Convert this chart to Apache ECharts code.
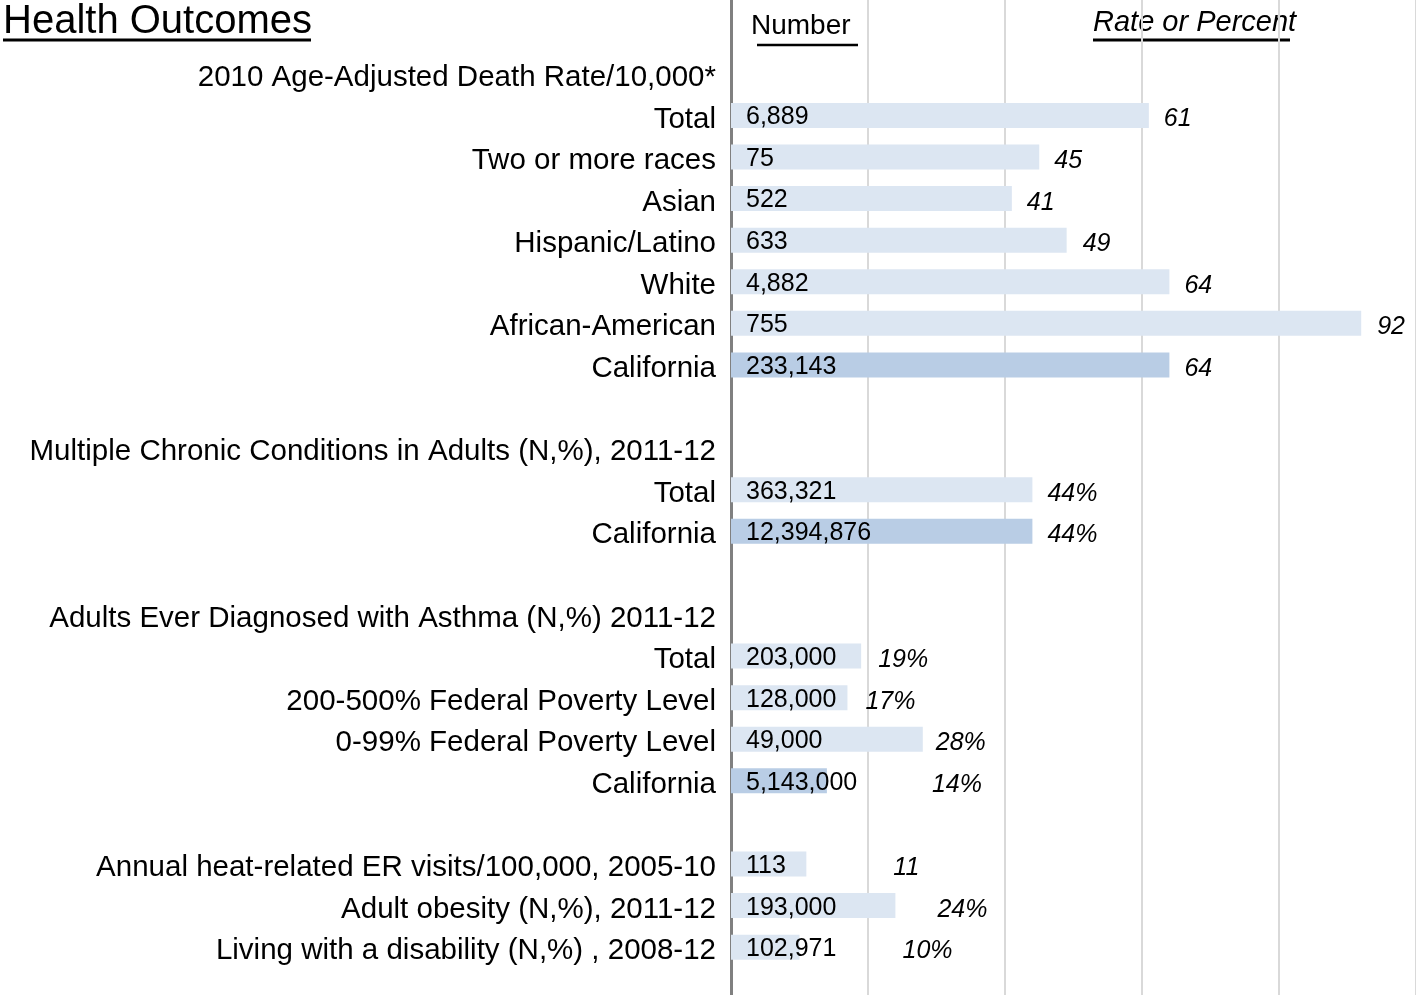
<!DOCTYPE html>
<html>
<head>
<meta charset="utf-8">
<title>Health Outcomes</title>
<script src="https://cdn.jsdelivr.net/npm/echarts@6/dist/echarts.min.js"></script>
<style>
  html, body { margin: 0; padding: 0; background: #fff; }
  #main { width: 1416px; height: 995px; }
</style>
</head>
<body>
<div id="main"></div>
<script>
// 数据
const categories = [
  '2010 Age-Adjusted Death Rate/10,000*',
  'Total', 'Two or more races', 'Asian', 'Hispanic/Latino', 'White', 'African-American', 'California',
  '',
  'Multiple Chronic Conditions in Adults (N,%), 2011-12',
  'Total', 'California',
  '',
  'Adults Ever Diagnosed with Asthma (N,%) 2011-12',
  'Total', '200-500% Federal Poverty Level', '0-99% Federal Poverty Level', 'California',
  '',
  'Annual heat-related ER visits/100,000, 2005-10',
  'Adult obesity (N,%), 2011-12',
  'Living with a disability (N,%) , 2008-12'
]
const rates = [null, 61, 45, 41, 49, 64, 92, 64, null, null, 44, 44, null, null, 19, 17, 28, 14, null, 11, 24, 10]
const counts = [null, 6889, 75, 522, 633, 4882, 755, 233143, null, null, 363321, 12394876, null, null, 203000, 128000, 49000, 5143000, null, 113, 193000, 102971]
const units = ['', '', '', '', '', '', '', '', '', '', '%', '%', '', '', '%', '%', '%', '%', '', '', '%', '%']

// 样式
const font = 'Liberation Sans, Arial, sans-serif'
const barColor = '#dce6f2'
const stateColor = '#b9cde5'
const rateLabelGap = [15, 15, 15, 15, 16, 15, 16, 15, 15, 15, 15, 15, 15, 15, 17, 18, 13, 105, 15, 87, 42, 103]

const chart = echarts.init(document.getElementById('main'))

const countData = rates.map((v, i) => ({
  value: v == null ? '-' : v,
  itemStyle: { color: categories[i] === 'California' ? stateColor : barColor }
}))
const rateData = rates.map((v, i) => ({
  value: v == null ? '-' : v,
  label: { distance: rateLabelGap[i] }
}))

chart.setOption({
  animation: false,
  grid: [
    { left: 731, right: 0, top: 0, bottom: 0 },
    { left: 731, right: 0, top: 53, height: 915 }
  ],
  xAxis: [
    {
      gridIndex: 0, type: 'value', min: 0, max: 100, interval: 20,
      axisLine: { show: false }, axisTick: { show: false }, axisLabel: { show: false },
      splitLine: { lineStyle: { color: '#d9d9d9', width: 2 } }
    },
    {
      gridIndex: 1, type: 'value', min: 0, max: 100, show: false
    }
  ],
  yAxis: [
    {
      gridIndex: 0, type: 'value', min: 0, max: 1,
      axisLine: { show: true, lineStyle: { color: '#808080', width: 3 } },
      axisTick: { show: false }, axisLabel: { show: false }, splitLine: { show: false }
    },
    {
      gridIndex: 1, type: 'category', inverse: true, data: categories,
      axisLine: { show: false }, axisTick: { show: false },
      axisLabel: {
        margin: 15,
        formatter: v => '{c|' + v + '}',
        rich: {
          c: { color: '#000', fontSize: 29.5, fontFamily: font, padding: [8, 0, 0, 0] }
        }
      }
    }
  ],
  series: [
    {
      type: 'bar', xAxisIndex: 1, yAxisIndex: 1,
      barWidth: 25,
      data: countData,
      label: {
        show: true, position: 'insideLeft', distance: 15, offset: [0, 2],
        color: '#000', fontSize: 25, fontFamily: font,
        formatter: p => counts[p.dataIndex] == null ? '' : counts[p.dataIndex].toLocaleString('en-US')
      }
    },
    {
      type: 'bar', xAxisIndex: 1, yAxisIndex: 1,
      barWidth: 25, barGap: '-100%',
      itemStyle: { color: 'rgba(0,0,0,0)' },
      data: rateData,
      label: {
        show: true, position: 'right', offset: [0, 4],
        color: '#000', fontSize: 25, fontStyle: 'italic', fontFamily: font,
        formatter: p => rates[p.dataIndex] == null ? '' : rates[p.dataIndex] + units[p.dataIndex]
      }
    }
  ],
  graphic: [
    {
      type: 'text', x: 3, y: 22,
      style: { text: 'Health Outcomes', fontSize: 40, fontFamily: font, fill: '#000', verticalAlign: 'middle' }
    },
    { type: 'line', shape: { x1: 3, y1: 40, x2: 311, y2: 40 }, style: { stroke: '#000', lineWidth: 3 } },
    {
      type: 'text', x: 751, y: 26,
      style: { text: 'Number', fontSize: 28, fontFamily: font, fill: '#000', verticalAlign: 'middle' }
    },
    { type: 'line', shape: { x1: 757, y1: 45, x2: 858, y2: 45 }, style: { stroke: '#000', lineWidth: 2.5 } },
    {
      type: 'text', x: 1093, y: 23,
      style: { text: 'Rate or Percent', fontSize: 29, fontStyle: 'italic', fontFamily: font, fill: '#000', verticalAlign: 'middle' }
    },
    { type: 'line', shape: { x1: 1093, y1: 40, x2: 1290, y2: 40 }, style: { stroke: '#000', lineWidth: 3 } }
  ]
})
</script>
</body>
</html>
